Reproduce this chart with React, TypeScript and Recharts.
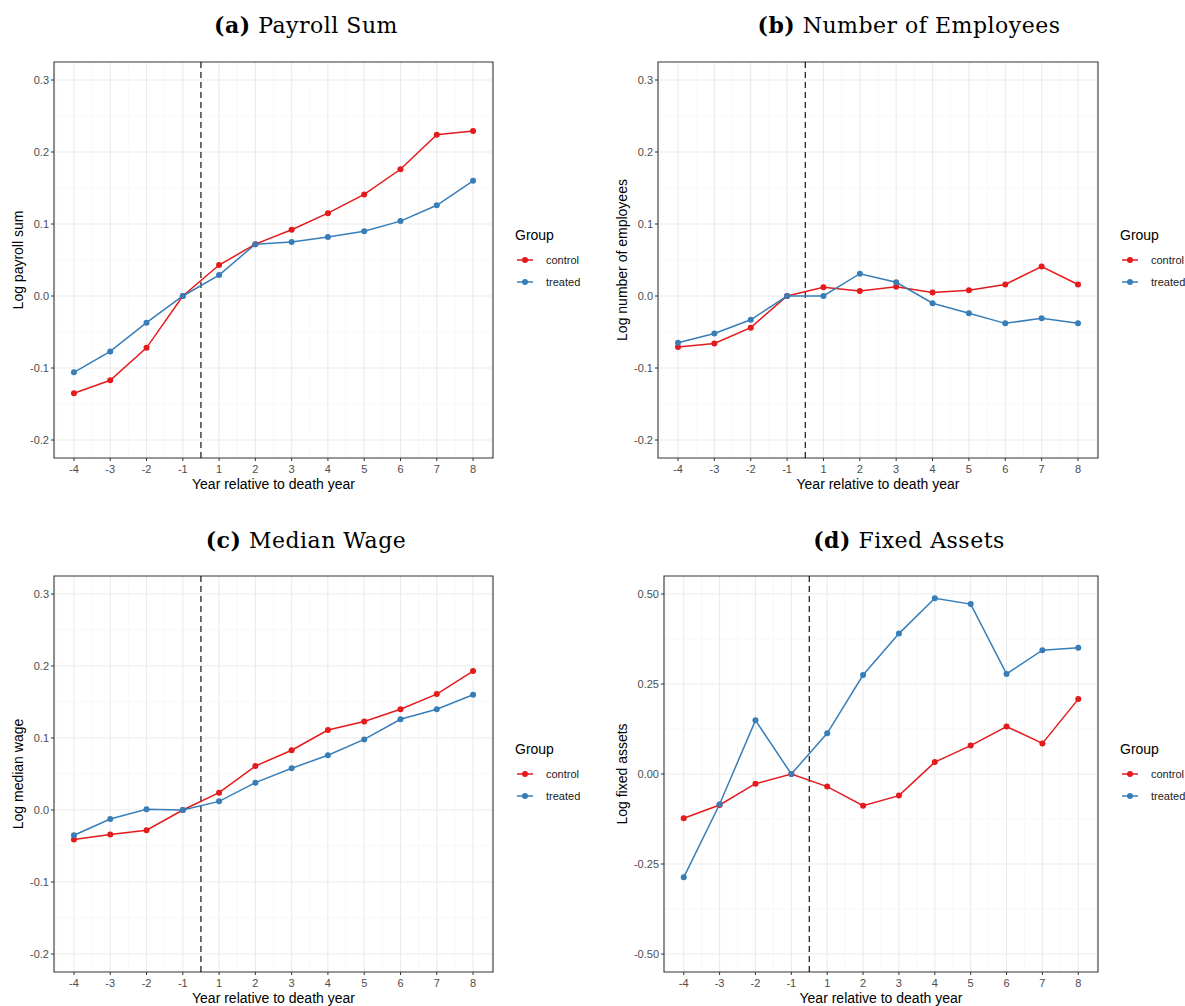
import React from 'react';
import {
  LineChart,
  Line,
  XAxis,
  YAxis,
  CartesianGrid,
  ReferenceLine,
  ReferenceArea,
} from 'recharts';

// event-time categories (there is no year 0)
const years = ['-4', '-3', '-2', '-1', '1', '2', '3', '4', '5', '6', '7', '8'];

const payrollControl = [-0.135, -0.117, -0.072, 0, 0.043, 0.072, 0.092, 0.115, 0.141, 0.176, 0.224, 0.229];
const payrollTreated = [-0.106, -0.077, -0.037, 0, 0.029, 0.072, 0.075, 0.082, 0.09, 0.104, 0.126, 0.16];

const employeesControl = [-0.071, -0.066, -0.044, 0, 0.012, 0.007, 0.013, 0.005, 0.008, 0.016, 0.041, 0.016];
const employeesTreated = [-0.065, -0.052, -0.033, 0, 0, 0.031, 0.019, -0.01, -0.024, -0.038, -0.031, -0.038];

const wageControl = [-0.041, -0.034, -0.028, 0, 0.024, 0.061, 0.083, 0.111, 0.123, 0.14, 0.161, 0.193];
const wageTreated = [-0.035, -0.0125, 0.001, 0, 0.012, 0.038, 0.058, 0.076, 0.098, 0.126, 0.14, 0.16];

const assetsControl = [-0.123, -0.086, -0.027, 0, -0.035, -0.088, -0.06, 0.033, 0.079, 0.132, 0.085, 0.208];
const assetsTreated = [-0.287, -0.084, 0.149, 0, 0.113, 0.275, 0.39, 0.488, 0.472, 0.278, 0.344, 0.351];

const smallTicks = [-0.2, -0.1, 0, 0.1, 0.2, 0.3];
const smallMinor = [-0.15, -0.05, 0.05, 0.15, 0.25];
const assetTicks = [-0.5, -0.25, 0, 0.25, 0.5];
const assetMinor = [-0.375, -0.125, 0.125, 0.375];

const RED = '#E41A1C';
const BLUE = '#377EB8';
const SANS = '"Liberation Sans", Arial, Helvetica, sans-serif';
const SERIF = '"DejaVu Serif", "Liberation Serif", serif';

const xIdx = years.map((_, i) => i + 1);
const xMinor = [0.5, ...xIdx.map((v) => v + 0.5)];
const X_DOMAIN: [number, number] = [0.45, 12.55];

const panels = [
  {
    tag: '(a)', name: 'Payroll Sum', yLabel: 'Log payroll sum',
    control: payrollControl, treated: payrollTreated,
    yDomain: [-0.225, 0.325], yTicks: smallTicks, yMinor: smallMinor, digits: 1,
    left: 0, top: 50, height: 448, xAxisH: 40, yAxisW: 54, yLabelX: 18,
    titleX: 306, titleY: 33, legendX: 515, legendY: 240,
  },
  {
    tag: '(b)', name: 'Number of Employees', yLabel: 'Log number of employees',
    control: employeesControl, treated: employeesTreated,
    yDomain: [-0.225, 0.325], yTicks: smallTicks, yMinor: smallMinor, digits: 1,
    left: 600, top: 50, height: 448, xAxisH: 40, yAxisW: 58, yLabelX: 22,
    titleX: 909, titleY: 33, legendX: 1120, legendY: 240,
  },
  {
    tag: '(c)', name: 'Median Wage', yLabel: 'Log median wage',
    control: wageControl, treated: wageTreated,
    yDomain: [-0.225, 0.325], yTicks: smallTicks, yMinor: smallMinor, digits: 1,
    left: 0, top: 564, height: 442, xAxisH: 34, yAxisW: 54, yLabelX: 18,
    titleX: 306, titleY: 548, legendX: 515, legendY: 754,
  },
  {
    tag: '(d)', name: 'Fixed Assets', yLabel: 'Log fixed assets',
    control: assetsControl, treated: assetsTreated,
    yDomain: [-0.55, 0.55], yTicks: assetTicks, yMinor: assetMinor, digits: 2,
    left: 600, top: 564, height: 442, xAxisH: 34, yAxisW: 64, yLabelX: 22,
    titleX: 909, titleY: 548, legendX: 1120, legendY: 754,
  },
];

function YTitle({ viewBox, text, cx }: any) {
  const cy = viewBox.y + viewBox.height / 2;
  return (
    <text
      transform={`translate(${cx},${cy}) rotate(-90)`}
      textAnchor="middle"
      dy="0.35em"
      fontFamily={SANS}
      fontSize={14}
      fill="#000"
    >
      {text}
    </text>
  );
}

function XTitle({ viewBox }: any) {
  return (
    <text
      x={viewBox.x + viewBox.width / 2}
      y={viewBox.y + 31}
      textAnchor="middle"
      fontFamily={SANS}
      fontSize={14}
      fill="#000"
    >
      Year relative to death year
    </text>
  );
}

function Panel({ p }: { p: (typeof panels)[number] }) {
  const width = p.left === 0 ? 495 : 500;
  const data = years.map((label, i) => ({
    x: i + 1,
    label,
    control: p.control[i],
    treated: p.treated[i],
  }));
  const [y0, y1] = p.yDomain;

  return (
    <div style={{ position: 'absolute', left: p.left, top: p.top }}>
      <LineChart
        width={width}
        height={p.height}
        data={data}
        margin={{ top: 12, right: 2, left: 0, bottom: 0 }}
      >
        <CartesianGrid
          stroke="#F3F3F3"
          strokeWidth={0.6}
          horizontalValues={p.yMinor}
          verticalValues={xMinor}
        />
        <CartesianGrid
          stroke="#EBEBEB"
          strokeWidth={1.1}
          horizontalValues={p.yTicks}
          verticalValues={xIdx}
        />
        <XAxis
          type="number"
          dataKey="x"
          domain={X_DOMAIN}
          ticks={xIdx}
          interval={0}
          allowDataOverflow
          tickFormatter={(v: number) => years[v - 1]}
          height={p.xAxisH}
          axisLine={false}
          tickSize={3}
          tickMargin={4}
          tickLine={{ stroke: '#333333' }}
          tick={{ fill: '#4D4D4D', fontSize: 11, fontFamily: SANS }}
          label={<XTitle />}
        />
        <YAxis
          type="number"
          domain={p.yDomain}
          ticks={p.yTicks}
          interval={0}
          allowDataOverflow
          tickFormatter={(v: number) => v.toFixed(p.digits)}
          width={p.yAxisW}
          axisLine={false}
          tickSize={3}
          tickMargin={2}
          tickLine={{ stroke: '#333333' }}
          tick={{ fill: '#4D4D4D', fontSize: 11, fontFamily: SANS }}
          label={<YTitle text={p.yLabel} cx={p.yLabelX} />}
        />
        <ReferenceLine x={4.5} stroke="#000" strokeWidth={1.1} strokeDasharray="6 4" />
        <Line
          type="linear"
          dataKey="control"
          stroke={RED}
          strokeWidth={1.5}
          dot={{ r: 3, fill: RED, stroke: RED, strokeWidth: 0 }}
          activeDot={false}
          isAnimationActive={false}
        />
        <Line
          type="linear"
          dataKey="treated"
          stroke={BLUE}
          strokeWidth={1.5}
          dot={{ r: 3, fill: BLUE, stroke: BLUE, strokeWidth: 0 }}
          activeDot={false}
          isAnimationActive={false}
        />
        {/* panel border */}
        <ReferenceArea
          x1={X_DOMAIN[0]}
          x2={X_DOMAIN[1]}
          y1={y0}
          y2={y1}
          fill="none"
          stroke="#333333"
          strokeWidth={1.1}
          ifOverflow="visible"
        />
      </LineChart>
    </div>
  );
}

function Legend({ x, y }: { x: number; y: number }) {
  const items = [
    { name: 'control', color: RED },
    { name: 'treated', color: BLUE },
  ];
  return (
    <g>
      <text x={x} y={y} fontFamily={SANS} fontSize={14} fill="#000">
        Group
      </text>
      {items.map((it, i) => {
        const cy = y + 20 + i * 22;
        return (
          <g key={it.name}>
            <line x1={x + 2} x2={x + 18} y1={cy} y2={cy} stroke={it.color} strokeWidth={1.5} />
            <circle cx={x + 10} cy={cy} r={3} fill={it.color} />
            <text x={x + 31} y={cy + 4} fontFamily={SANS} fontSize={11} fill="#1A1A1A">
              {it.name}
            </text>
          </g>
        );
      })}
    </g>
  );
}

export default function App() {
  return (
    <div
      style={{
        position: 'absolute',
        left: 0,
        top: 0,
        width: 1185,
        height: 1006,
        background: '#fff',
        overflow: 'hidden',
      }}
    >
      {panels.map((p) => (
        <Panel key={p.tag} p={p} />
      ))}
      <svg
        width={1185}
        height={1006}
        style={{ position: 'absolute', left: 0, top: 0, pointerEvents: 'none' }}
      >
        {panels.map((p) => (
          <g key={p.tag}>
            <text
              x={p.titleX}
              y={p.titleY}
              textAnchor="middle"
              fontFamily={SERIF}
              fontSize={22}
              letterSpacing={0.5}
              fill="#000"
            >
              <tspan fontWeight="bold">{p.tag}</tspan> {p.name}
            </text>
            <Legend x={p.legendX} y={p.legendY} />
          </g>
        ))}
      </svg>
    </div>
  );
}
